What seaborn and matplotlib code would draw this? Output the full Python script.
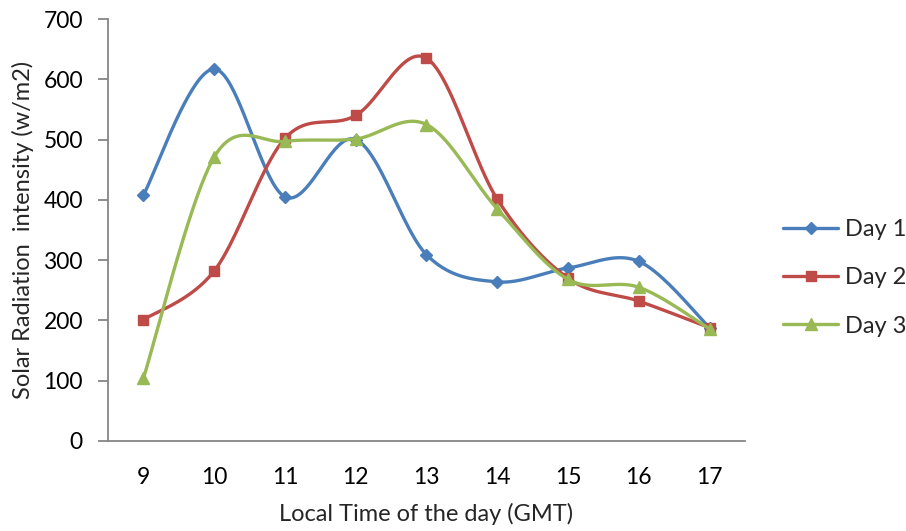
import numpy as np
import pandas as pd
import matplotlib
matplotlib.use("Agg")
import matplotlib.pyplot as plt
import seaborn as sns

hours = [9, 10, 11, 12, 13, 14, 15, 16, 17]
day1 = [408, 617, 405, 500, 309, 264, 287, 298, 188]
day2 = [201, 282, 502, 540, 635, 401, 270, 232, 188]
day3 = [104, 471, 497, 501, 525, 385, 268, 255, 186]
series_names = ["Day 1", "Day 2", "Day 3"]
y_ticks = [0, 100, 200, 300, 400, 500, 600, 700]


def smooth(xs, ys, steps=40):
    """Cubic Bezier smoothing through every point (Catmull-Rom control points)."""
    pts = np.column_stack([xs, ys]).astype(float)
    n = len(pts)
    out = []
    for i in range(n - 1):
        p0 = pts[max(i - 1, 0)]
        p1 = pts[i]
        p2 = pts[i + 1]
        p3 = pts[min(i + 2, n - 1)]
        c1 = p1 + (p2 - p0) / 6.0
        c2 = p2 - (p3 - p1) / 6.0
        t = np.linspace(0, 1, steps, endpoint=(i == n - 2))[:, None]
        seg = ((1 - t) ** 3) * p1 + 3 * ((1 - t) ** 2) * t * c1 + 3 * (1 - t) * t ** 2 * c2 + t ** 3 * p2
        out.append(seg)
    return np.vstack(out)


sns.set_style("white")
plt.rcParams["font.family"] = ["Lato", "DejaVu Sans"]

fig = plt.figure(figsize=(9.06, 5.31), dpi=100)
ax = fig.add_axes([0.1192, 0.1695, 0.7031, 0.7947])

colors = ["#4A7EBB", "#BE4B48", "#98B954"]
markers = ["D", "s", "^"]
msizes = [6, 7, 8]
fs = 17
tfs = 16.5

handles = []
for name, vals, col, mk, ms in zip(series_names, [day1, day2, day3], colors, markers, msizes):
    curve = smooth(hours, vals)
    cdf = pd.DataFrame({"x": curve[:, 0], "y": curve[:, 1]})
    sns.lineplot(data=cdf, x="x", y="y", sort=False, color=col, linewidth=2.4, ax=ax,
                 estimator=None, legend=False)
    pdf = pd.DataFrame({"x": hours, "y": vals})
    ax.plot(pdf["x"], pdf["y"], linestyle="none", marker=mk, markersize=ms, color=col,
            markeredgecolor=col)
    h, = ax.plot([], [], color=col, linewidth=2.4, marker=mk, markersize=ms, label=name)
    handles.append(h)

ax.set_xlim(8.5, 17.5)
ax.set_ylim(0, 700)
ax.set_xticks(hours)
ax.set_xticklabels([str(h) for h in hours])
ax.set_yticks(y_ticks)
ax.set_yticklabels([str(v) for v in y_ticks])

for side in ["top", "right"]:
    ax.spines[side].set_visible(False)
for side in ["left", "bottom"]:
    ax.spines[side].set_color("#868686")
    ax.spines[side].set_linewidth(1.3)

ax.tick_params(axis="y", which="both", left=True, length=7, width=1.3, color="#868686",
               labelsize=tfs, pad=11, labelcolor="black")
ax.tick_params(axis="x", which="both", bottom=False, labelsize=tfs, pad=15, labelcolor="black")

ax.set_xlabel("Local Time of the day (GMT)", fontsize=fs, labelpad=11)
ax.set_ylabel("Solar Radiation  intensity (w/m2)", fontsize=fs, labelpad=7)

fig.legend(handles=handles, labels=series_names, loc="center left",
           bbox_to_anchor=(783 / 906, 1 - 278 / 531), frameon=False, fontsize=fs,
           handlelength=2.33, labelspacing=1.15, handletextpad=0.3, borderpad=0.0,
           borderaxespad=0.0)

fig.savefig("out.png", dpi=100)
